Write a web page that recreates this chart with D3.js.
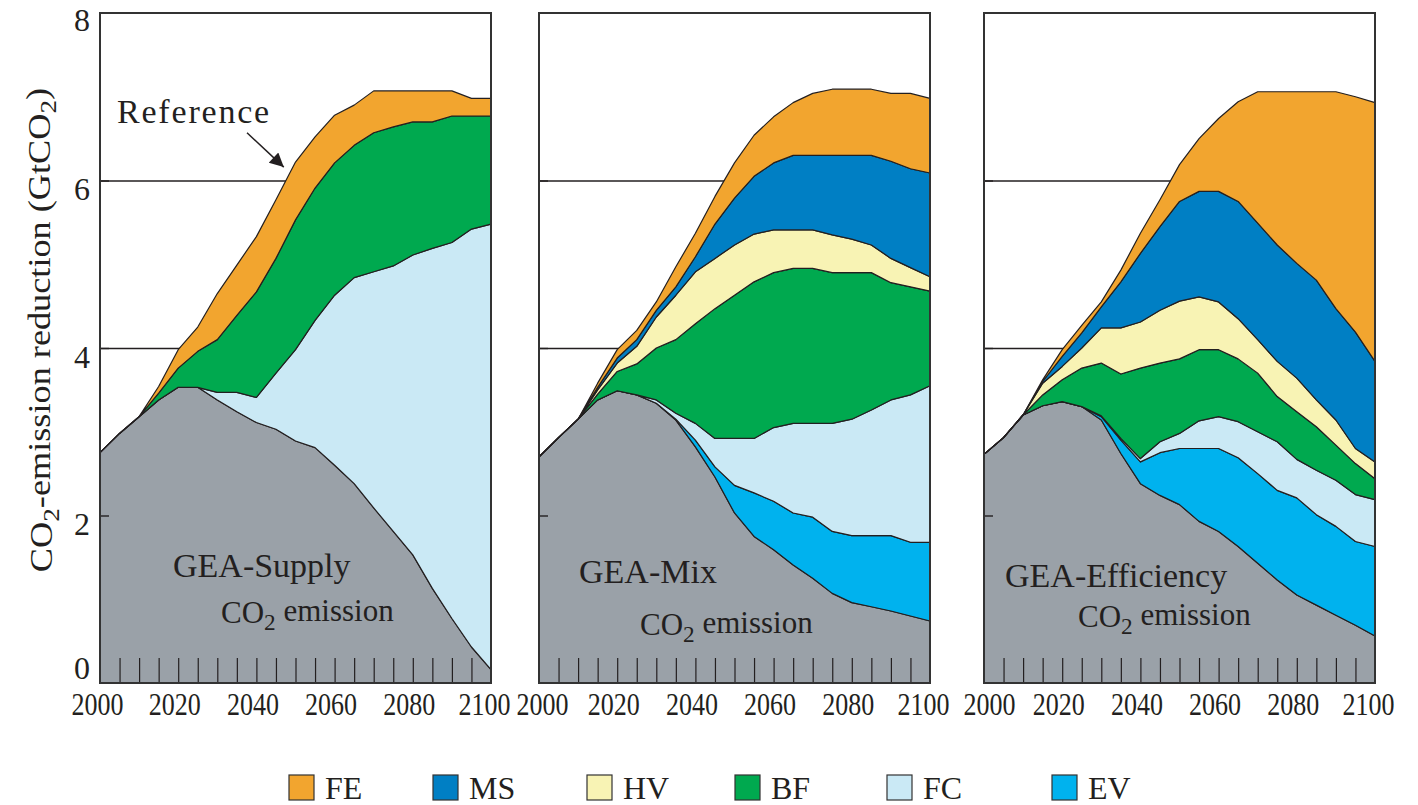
<!DOCTYPE html>
<html>
<head>
<meta charset="utf-8">
<script src="https://cdn.jsdelivr.net/npm/d3@7"></script>
<style>
    body { margin: 0; background: #fff; }
    svg text { font-family: "Liberation Serif", "Times New Roman", serif; fill: #231f20; }
</style>
</head>
<body>
<div id="chart"></div>
<script>
// years of the scenario runs
const years = d3.range(2000, 2101, 5);

// upper edge of each stacked layer (GtCO2), bottom layer first
const supplyCO2 = [2.75, 2.98, 3.18, 3.38, 3.53, 3.53, 3.38, 3.24, 3.11, 3.03, 2.89, 2.81, 2.60, 2.38, 2.09, 1.81, 1.53, 1.13, 0.77, 0.43, 0.16];
const supplyFC  = [2.75, 2.98, 3.18, 3.38, 3.53, 3.53, 3.47, 3.47, 3.41, 3.70, 3.98, 4.33, 4.63, 4.84, 4.91, 4.98, 5.11, 5.19, 5.26, 5.42, 5.48];
const supplyBF  = [2.75, 2.98, 3.18, 3.46, 3.76, 3.96, 4.10, 4.39, 4.67, 5.07, 5.53, 5.91, 6.21, 6.42, 6.57, 6.64, 6.70, 6.70, 6.77, 6.77, 6.77];
const supplyFE  = [2.75, 2.98, 3.18, 3.54, 3.98, 4.25, 4.65, 4.99, 5.33, 5.77, 6.22, 6.52, 6.78, 6.90, 7.07, 7.07, 7.07, 7.07, 7.07, 6.98, 6.98];

const mixCO2 = [2.70, 2.93, 3.15, 3.38, 3.49, 3.44, 3.34, 3.14, 2.82, 2.46, 2.03, 1.75, 1.59, 1.41, 1.25, 1.07, 0.96, 0.91, 0.86, 0.80, 0.74];
const mixEV  = [2.70, 2.93, 3.15, 3.38, 3.49, 3.44, 3.34, 3.15, 2.90, 2.58, 2.36, 2.27, 2.17, 2.03, 1.98, 1.81, 1.76, 1.76, 1.76, 1.68, 1.68];
const mixFC  = [2.70, 2.93, 3.15, 3.38, 3.49, 3.44, 3.38, 3.22, 3.10, 2.92, 2.92, 2.92, 3.05, 3.10, 3.10, 3.10, 3.15, 3.26, 3.38, 3.44, 3.55];
const mixBF  = [2.70, 2.93, 3.15, 3.45, 3.72, 3.81, 4.00, 4.10, 4.29, 4.47, 4.63, 4.79, 4.90, 4.95, 4.95, 4.90, 4.90, 4.90, 4.78, 4.73, 4.68];
const mixHV  = [2.70, 2.93, 3.15, 3.50, 3.82, 4.02, 4.37, 4.63, 4.91, 5.07, 5.23, 5.36, 5.41, 5.41, 5.41, 5.35, 5.30, 5.23, 5.07, 4.96, 4.85];
const mixMS  = [2.70, 2.93, 3.15, 3.53, 3.88, 4.10, 4.45, 4.73, 5.09, 5.48, 5.79, 6.05, 6.21, 6.30, 6.30, 6.30, 6.30, 6.30, 6.23, 6.14, 6.09];
const mixFE  = [2.70, 2.93, 3.15, 3.58, 3.98, 4.21, 4.55, 4.97, 5.37, 5.81, 6.21, 6.54, 6.76, 6.93, 7.04, 7.09, 7.09, 7.09, 7.04, 7.04, 6.98];

const effCO2 = [2.73, 2.93, 3.20, 3.31, 3.36, 3.30, 3.14, 2.74, 2.38, 2.24, 2.13, 1.93, 1.81, 1.63, 1.43, 1.23, 1.05, 0.93, 0.81, 0.69, 0.56];
const effEV  = [2.73, 2.93, 3.20, 3.31, 3.36, 3.30, 3.18, 2.90, 2.64, 2.75, 2.80, 2.80, 2.80, 2.69, 2.50, 2.30, 2.21, 2.01, 1.87, 1.69, 1.63];
const effFC  = [2.73, 2.93, 3.20, 3.31, 3.36, 3.30, 3.19, 2.92, 2.68, 2.88, 2.98, 3.13, 3.18, 3.12, 3.00, 2.88, 2.67, 2.54, 2.42, 2.25, 2.19];
const effBF  = [2.73, 2.93, 3.20, 3.44, 3.62, 3.76, 3.82, 3.69, 3.76, 3.82, 3.87, 3.98, 3.98, 3.87, 3.70, 3.42, 3.24, 3.06, 2.84, 2.62, 2.44];
const effHV  = [2.73, 2.93, 3.20, 3.58, 3.78, 4.00, 4.24, 4.24, 4.31, 4.45, 4.56, 4.61, 4.55, 4.35, 4.10, 3.84, 3.64, 3.38, 3.14, 2.80, 2.64];
const effMS  = [2.73, 2.93, 3.20, 3.60, 3.90, 4.18, 4.49, 4.79, 5.13, 5.45, 5.75, 5.87, 5.87, 5.75, 5.49, 5.23, 5.01, 4.81, 4.47, 4.19, 3.84];
const effFE  = [2.73, 2.93, 3.20, 3.62, 3.98, 4.27, 4.55, 4.93, 5.37, 5.77, 6.19, 6.50, 6.74, 6.94, 7.06, 7.06, 7.06, 7.06, 7.06, 7.00, 6.93];

const legendKeys = ["FE", "MS", "HV", "BF", "FC", "EV"];
const yTicks = [0, 2, 4, 6, 8];
const xLabelTicks = [2000, 2020, 2040, 2060, 2080, 2100];

const colors = {
    CO2: "#9aa1a8", EV: "#00b2ee", FC: "#cae9f5", BF: "#00a94f",
    HV: "#f8f3b4", MS: "#007fc4", FE: "#f2a52f"
};
const ink = "#231f20";

const W = 1418, H = 805;
const panelTop = 13, panelW = 391, panelH = 670;

let svg = d3.select("#chart").append("svg")
    .attr("width", W)
    .attr("height", H);

svg.append("defs").append("marker")
    .attr("id", "arrow")
    .attr("viewBox", "0 0 10 10")
    .attr("refX", 10).attr("refY", 5)
    .attr("markerUnits", "userSpaceOnUse")
    .attr("markerWidth", 19).attr("markerHeight", 14)
    .attr("orient", "auto")
    .append("path")
    .attr("d", "M0,0L10,5L0,10z")
    .attr("fill", ink);

class stackPanel {
    constructor(svg, config) {
        this.svg = svg;
        this.config = config;
        this.width = panelW;
        this.height = panelH;
        this.initVis();
    }

    initVis() {
        let vis = this;
        let c = vis.config;

        vis.g = vis.svg.append("g")
            .attr("transform", "translate(" + c.left + "," + panelTop + ")");

        vis.x = d3.scaleLinear().domain([2000, 2100]).range([0, vis.width]);
        vis.y = d3.scaleLinear().domain([0, 8]).range([vis.height, 0]);

        // gridlines sit behind the areas
        vis.g.append("g")
            .call(d3.axisLeft(vis.y).tickValues([2, 4, 6]).tickSize(-vis.width).tickFormat(""))
            .call(g => g.select(".domain").remove())
            .selectAll("line")
            .attr("stroke", ink)
            .attr("stroke-width", 1.4);

        let area = d3.area()
            .x(d => vis.x(d.year))
            .y0(d => vis.y(d.y0))
            .y1(d => vis.y(d.y1));

        let lower = years.map(() => 0);
        c.layers.forEach(layer => {
            let pts = years.map((yr, i) => ({year: yr, y0: lower[i], y1: layer.values[i]}));
            vis.g.append("path")
                .datum(pts)
                .attr("d", area)
                .attr("fill", colors[layer.key])
                .attr("stroke", ink)
                .attr("stroke-width", 1.2)
                .attr("stroke-linejoin", "round");
            lower = layer.values;
        });

        // short inner ticks on the y axis
        vis.g.append("g")
            .call(d3.axisLeft(vis.y).tickValues([2, 4, 6]).tickSize(-9).tickFormat(""))
            .call(g => g.select(".domain").remove())
            .selectAll("line")
            .attr("stroke", ink)
            .attr("stroke-width", 1.4);

        // five-year ticks along the bottom
        vis.g.append("g")
            .attr("transform", "translate(0," + vis.height + ")")
            .call(d3.axisBottom(vis.x).tickValues(d3.range(2005, 2100, 5)).tickSize(-25).tickFormat(""))
            .call(g => g.select(".domain").remove())
            .selectAll("line")
            .attr("stroke", ink)
            .attr("stroke-width", 1.2);

        vis.g.append("rect")
            .attr("width", vis.width)
            .attr("height", vis.height)
            .attr("fill", "none")
            .attr("stroke", "#333")
            .attr("stroke-width", 2);

        // year labels, the end ones pulled inward a little
        vis.g.append("g")
            .attr("transform", "translate(0," + vis.height + ")")
            .call(d3.axisBottom(vis.x).tickValues(xLabelTicks).tickSize(0).tickPadding(10).tickFormat(d3.format("d")))
            .call(g => g.select(".domain").remove())
            .selectAll("text")
            .style("font-size", "31px")
            .attr("transform", d => {
                let dx = d === 2100 ? -7 : (d === 2000 ? c.firstShift : -4);
                return "translate(" + dx + ",0) scale(0.84,1)";
            });

        if (c.yLabels) {
            vis.g.append("g")
                .call(d3.axisLeft(vis.y).tickValues(yTicks).tickSize(0).tickPadding(10))
                .call(g => g.select(".domain").remove())
                .selectAll("text")
                .style("font-size", "32px")
                .attr("dy", d => d === 0 ? "-0.13em" : (d === 8 ? "0.55em" : "0.6em"));
        }

        vis.g.append("text")
            .attr("x", c.titleX)
            .attr("y", c.titleY)
            .style("font-size", "34px")
            .text(c.title);

        let sub = vis.g.append("text")
            .attr("x", c.subX)
            .attr("y", c.subY)
            .style("font-size", "31px");
        sub.append("tspan").text("CO");
        sub.append("tspan").attr("dy", "0.28em").style("font-size", "0.75em").text("2");
        sub.append("tspan").attr("dy", "-0.28em").text(" emission");

        if (c.reference) {
            vis.g.append("text")
                .attr("x", 17)
                .attr("y", 110)
                .style("font-size", "34px")
                .style("letter-spacing", "1.8px")
                .text("Reference");
            vis.g.append("line")
                .attr("x1", vis.x(2037.6))
                .attr("y1", vis.y(6.57))
                .attr("x2", vis.x(2047))
                .attr("y2", vis.y(6.16))
                .attr("stroke", ink)
                .attr("stroke-width", 1.5)
                .attr("marker-end", "url(#arrow)");
        }
    }
}

new stackPanel(svg, {
    left: 100, yLabels: true, reference: true, firstShift: -3,
    title: "GEA-Supply", titleX: 73, titleY: 564,
    subX: 121, subY: 610,
    layers: [
        {key: "CO2", values: supplyCO2},
        {key: "FC", values: supplyFC},
        {key: "BF", values: supplyBF},
        {key: "FE", values: supplyFE}
    ]
});

new stackPanel(svg, {
    left: 539, firstShift: 3,
    title: "GEA-Mix", titleX: 40, titleY: 570,
    subX: 101, subY: 622,
    layers: [
        {key: "CO2", values: mixCO2},
        {key: "EV", values: mixEV},
        {key: "FC", values: mixFC},
        {key: "BF", values: mixBF},
        {key: "HV", values: mixHV},
        {key: "MS", values: mixMS},
        {key: "FE", values: mixFE}
    ]
});

new stackPanel(svg, {
    left: 984, firstShift: 5,
    title: "GEA-Efficiency", titleX: 21, titleY: 574,
    subX: 94, subY: 614,
    layers: [
        {key: "CO2", values: effCO2},
        {key: "EV", values: effEV},
        {key: "FC", values: effFC},
        {key: "BF", values: effBF},
        {key: "HV", values: effHV},
        {key: "MS", values: effMS},
        {key: "FE", values: effFE}
    ]
});

// y axis title
let yTitle = svg.append("text")
    .attr("transform", "translate(52,330) rotate(-90) scale(1.17,1)")
    .attr("text-anchor", "middle")
    .style("font-size", "31px");
yTitle.append("tspan").text("CO");
yTitle.append("tspan").attr("dy", "0.28em").style("font-size", "0.75em").text("2");
yTitle.append("tspan").attr("dy", "-0.28em").text("-emission reduction (GtCO");
yTitle.append("tspan").attr("dy", "0.28em").style("font-size", "0.75em").text("2");
yTitle.append("tspan").attr("dy", "-0.28em").text(")");

// legend
const legendX = [289, 433, 587, 735, 887, 1052];
let legend = svg.append("g").selectAll("g")
    .data(legendKeys)
    .enter()
    .append("g")
    .attr("transform", (d, i) => "translate(" + legendX[i] + ",775)");

legend.append("rect")
    .attr("width", 25)
    .attr("height", 25)
    .attr("fill", d => colors[d])
    .attr("stroke", "#333")
    .attr("stroke-width", 1.2);

legend.append("text")
    .attr("x", 36)
    .attr("y", 24)
    .style("font-size", "32px")
    .text(d => d);
</script>
</body>
</html>
